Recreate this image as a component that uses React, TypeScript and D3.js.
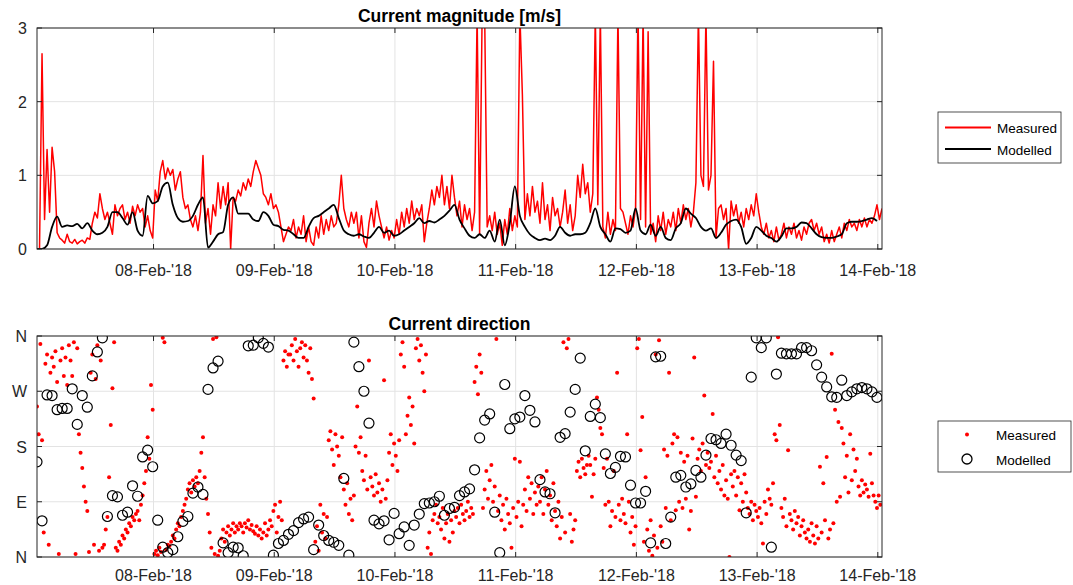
import React from 'react';
import * as d3 from 'd3';

// time axis: series start 07-Feb-2018 00:50 UTC
const START = Date.UTC(2018, 1, 7, 0, 50);
const END = Date.UTC(2018, 1, 14, 0, 50);
const MIN = 60000;

// current magnitude [m/s], measured every 30 min
const measuredMagnitude = [
  0, 0, 2.65, 0.4, 1.35, 0.5, 1.38, 1.05, 0.22, 0.15,
  0.12, 0.08, 0.2, 0.1, 0.08, 0.13, 0.07, 0.1, 0.12, 0.08,
  0.15, 0.13, 0.35, 0.5, 0.42, 0.75, 0.55, 0.4, 0.5, 0.35,
  0.2, 0.6, 0.45, 0.55, 0.6, 0.4, 0.5, 0.35, 0.58, 0.45,
  0.6, 0.5, 0.55, 0.3, 0.45, 0.25, 0.15, 0.8, 0.65, 1.05,
  1.2, 0.95, 1.1, 1.0, 1.08, 0.8, 0.95, 1.05, 0.7, 0.55,
  0.6, 0.4, 0.3, 0.45, 0.25, 0.5, 1.27, 0.35, 0.55, 0.2,
  0.6, 0.45, 0.9, 0.55, 0.85, 0.6, 0.9, 0.0, 0.7, 0.65,
  0.8, 0.72, 0.9, 0.8, 0.95, 0.85, 1.05, 1.2, 1.1, 1.0,
  0.75, 0.7, 0.6, 0.75, 0.55, 0.6, 0.5, 0.3, 0.1, 0.2,
  0.3, 0.25, 0.4, 0.15, 0.3, 0.2, 0.45, 0.1, 0.3, 0.1,
  0.05, 0.3, 0.15, 0.45, 0.2, 0.4, 0.25, 0.45, 0.3, 0.35,
  0.6, 1.0, 0.55, 0.4, 0.3, 0.5, 0.35, 0.5, 0.15, 0.45,
  0.1, 0.02, 0.35, 0.55, 0.3, 0.65, 0.45, 0.3, 0.15, 0.3,
  0.12, 0.25, 0.15, 0.4, 0.2, 0.5, 0.3, 0.55, 0.35, 0.65,
  0.4, 0.55, 0.45, 0.6, 0.1, 0.35, 0.55, 0.8, 0.6, 0.85,
  0.7, 1.0, 0.6, 0.85, 0.55, 1.0, 0.7, 0.45, 0.65, 0.3,
  0.6, 0.4, 0.55, 0.25, 0.5, 3.2, 0.2, 3.2, 3.2, 0.3,
  0.45, 0.25, 0.5, 0.2, 0.35, 0.05, 0.4, 0.2, 0.55, 0.25,
  0.45, 0.3, 3.2, 2.1, 0.4, 0.75, 0.45, 0.85, 0.5, 0.65,
  0.35, 0.9, 0.4, 0.6, 0.25, 0.7, 0.45, 0.55, 0.3, 0.5,
  0.8, 0.35, 0.6, 0.25, 0.45, 1.0, 0.7, 1.15, 0.75, 0.9,
  0.5, 0.75, 3.2, 0.6, 3.2, 0.3, 0.15, 0.5, 0.2, 0.4,
  0.25, 3.2, 0.55, 0.5, 0.35, 0.2, 0.45, 0.3, 0.55, 3.2,
  0.4, 3.2, 0.3, 2.95, 0.2, 0.35, 0.1, 0.45, 0.25, 0.5,
  0.2, 0.4, 0.3, 0.5, 0.25, 0.55, 0.35, 0.6, 0.4, 0.55,
  0.3, 0.5, 0.9, 3.2, 1.0, 0.85, 3.2, 0.8, 1.0, 2.55,
  0.15, 0.55, 0.6, 0.4, 0.55, 0.0, 0.65, 0.45, 0.6, 0.35,
  0.5, 0.3, 0.55, 0.4, 0.6, 0.45, 0.75, 0.5, 0.3, 0.2,
  0.35, 0.15, 0.25, 0.1, 0.3, 0.12, 0.2, 0.35, 0.15, 0.3,
  0.2, 0.35, 0.15, 0.25, 0.12, 0.3, 0.2, 0.35, 0.4, 0.25,
  0.35, 0.2, 0.3, 0.1, 0.2, 0.08, 0.25, 0.1, 0.2, 0.3,
  0.15, 0.35, 0.25, 0.4, 0.3, 0.35, 0.25, 0.4, 0.3, 0.42,
  0.3, 0.4, 0.35, 0.45, 0.6, 0.4, 0.55,
];

// current magnitude [m/s], model output every hour
const modelledMagnitude = [
  0, 0, 0.05, 0.3, 0.44, 0.3, 0.32, 0.31, 0.34, 0.28,
  0.35, 0.25, 0.2, 0.22, 0.3, 0.5, 0.5, 0.42, 0.33, 0.5,
  0.25, 0.18, 0.72, 0.62, 0.65, 0.85, 0.9, 0.6, 0.42, 0.37,
  0.38, 0.45, 0.6, 0.7, 0.02, 0.1, 0.2, 0.23, 0.6, 0.7,
  0.48, 0.48, 0.48, 0.4, 0.38, 0.5, 0.45, 0.33, 0.31, 0.26,
  0.25, 0.2, 0.15, 0.15, 0.3, 0.42, 0.45, 0.5, 0.55, 0.6,
  0.42, 0.25, 0.2, 0.18, 0.2, 0.17, 0.15, 0.22, 0.3, 0.22,
  0.25, 0.18, 0.2, 0.25, 0.3, 0.35, 0.42, 0.35, 0.38, 0.36,
  0.4, 0.45, 0.52, 0.6, 0.4, 0.28, 0.18, 0.15, 0.2, 0.15,
  0.25, 0.1, 0.4, 0.05, 0.35, 0.85, 0.45, 0.3, 0.2, 0.15,
  0.12, 0.14, 0.12, 0.18, 0.3, 0.22, 0.18, 0.2, 0.2, 0.22,
  0.35, 0.55, 0.3, 0.2, 0.1, 0.28, 0.27, 0.22, 0.25, 0.55,
  0.25, 0.2, 0.33, 0.18, 0.3, 0.15, 0.12, 0.28, 0.35, 0.55,
  0.48, 0.42, 0.3, 0.25, 0.28, 0.15, 0.22, 0.33, 0.38, 0.4,
  0.3, 0.07, 0.15, 0.3, 0.25, 0.18, 0.15, 0.1, 0.17, 0.28,
  0.28, 0.3, 0.36, 0.35, 0.28, 0.2, 0.16, 0.15, 0.15, 0.17,
  0.2, 0.35, 0.37, 0.37, 0.38, 0.4, 0.42, 0.38,
];

// current direction [deg], measured every 20 min
const measuredDirection = [
  245, 200, 347, 190, 40, 315, 330, 20, 300, 325,
  310, 335, 285, 5, 320, 340, 295, 325, 280, 345,
  320, 295, 350, 5, 340, 200, 170, 145, 115, 90,
  75, 8, 300, 330, 20, 290, 345, 10, 320, 15,
  20, 45, 65, 130, 215, 275, 350, 15, 10, 25,
  20, 35, 30, 45, 40, 55, 50, 65, 60, 70,
  75, 60, 85, 100, 120, 140, 195, 160, 280, 240,
  5, 10, 3, 15, 8, 357, 350, 12, 20, 18,
  25, 35, 30, 45, 55, 50, 65, 75, 85, 95,
  110, 120, 105, 125, 115, 130, 120, 140, 170, 195,
  130, 95, 70, 40, 15, 355, 5, 358, 2, 10,
  30, 45, 25, 40, 50, 35, 45, 55, 40, 50,
  45, 55, 50, 40, 55, 48, 60, 45, 52, 42,
  38, 50, 35, 45, 30, 40, 55, 35, 45, 60,
  50, 75, 85, 40, 65, 90, 60, 320, 335, 310,
  330, 330, 345, 320, 355, 335, 310, 340, 350, 325,
  345, 320, 300, 340, 290, 258, 25, 50, 10, 85,
  40, 70, 30, 65, 190, 205, 175, 150, 200, 180,
  165, 130, 195, 110, 85, 120, 70, 95, 60, 100,
  180, 245, 170, 195, 140, 125, 165, 110, 320, 130,
  115, 100, 135, 105, 120, 90, 110, 288, 95, 125,
  170, 200, 150, 185, 165, 140, 190, 330, 350, 310,
  200, 230, 260, 215, 245, 185, 340, 355, 320, 345,
  300, 270, 330, 15, 40, 5, 60, 70, 85, 55,
  65, 45, 80, 30, 55, 70, 25, 60, 40, 75,
  65, 80, 55, 85, 70, 60, 75, 90, 65, 80,
  70, 285, 310, 265, 330, 300, 80, 110, 140, 95,
  125, 150, 90, 115, 355, 75, 100, 60, 85, 45,
  95, 70, 55, 15, 80, 160, 65, 90, 155, 50,
  85, 110, 75, 130, 95, 120, 70, 105, 85, 115,
  90, 130, 70, 110, 140, 85, 100, 60, 120, 75,
  50, 90, 30, 65, 350, 40, 340, 355, 70, 25,
  45, 60, 140, 155, 130, 160, 145, 135, 150, 165,
  150, 98, 135, 160, 260, 240, 210, 200, 145, 85,
  160, 90, 50, 75, 140, 65, 300, 85, 60, 95,
  70, 55, 200, 90, 40, 65, 20, 50, 340, 355,
  174, 228, 25, 130, 45, 10, 60, 2, 35, 330,
  15, 353, 50, 25, 175, 80, 165, 300, 60, 185,
  200, 76, 195, 90, 170, 80, 155, 95, 165, 45,
  75, 193, 325, 98, 160, 175, 140, 185, 263, 150,
  170, 145, 155, 233, 130, 165, 120, 140, 110, 150,
  100, 125, 95, 0, 135, 115, 140, 100, 130, 76,
  120, 90, 135, 105, 80, 70, 90, 60, 85, 75,
  65, 80, 55, 22, 90, 70, 110, 95, 85, 120,
  200, 190, 358, 215, 80, 65, 95, 50, 174, 70,
  60, 45, 75, 55, 65, 35, 50, 60, 40, 30,
  45, 25, 55, 35, 22, 50, 30, 147, 40, 120,
  60, 163, 30, 45, 331, 55, 240, 90, 220, 98,
  210, 185, 130, 165, 105, 200, 125, 175, 140, 160,
  115, 100, 125, 105, 118, 110, 98, 168, 120, 100,
  90, 80, 100, 85,
];

// current direction [deg], model output every hour
const modelledDirection = [
  155, 59, 264, 263, 240, 242, 242, 274, 216, 263,
  244, 295, 334, 357, 66, 100, 98, 68, 73, 116,
  99, 163, 174, 147, 60, 16, 7, 12, 33, 58,
  66, 104, 114, 102, 273, 308, 319, 23, 7, 16,
  15, 2, 344, 345, 357, 348, 342, 3, 22, 27,
  37, 43, 56, 62, 65, 12, 52, 35, 27, 24,
  19, 128, 3, 350, 310, 270, 218, 60, 54, 59,
  28, 71, 38, 49, 19, 52, 70, 87, 88, 90,
  99, 68, 79, 81, 100, 106, 111, 142, 194, 223,
  233, 73, 7, 281, 209, 225, 228, 263, 239, 220,
  126, 106, 103, 72, 195, 201, 236, 273, 324, 173,
  229, 249, 227, 168, 136, 146, 164, 163, 117, 88,
  88, 107, 23, 326, 327, 22, 65, 130, 133, 114,
  119, 141, 130, 166, 193, 191, 185, 200, 182, 166,
  157, 72, 293, 357, 341, 357, 16, 298, 332, 331,
  331, 331, 341, 341, 336, 313, 293, 277, 261, 260,
  288, 263, 269, 274, 276, 274, 269, 260,
];

const magTicks = [0, 1, 2, 3];
const dirTicks = [0, 90, 180, 270, 360];
const dirLabels = ['N', 'E', 'S', 'W', 'N'];
const legendLabels = ['Measured', 'Modelled'];

const FONT = "'Liberation Sans', Arial, Helvetica, sans-serif";
const AX = '#262626';
const GRID = '#e3e3e3';
const L = 37, R = 882;

type PanelProps = {
  id: string;
  top: number;
  bottom: number;
  labelGap: number;
  title: string;
  yTicks: number[];
  yLabel: (v: number, i: number) => string;
  yScale: d3.ScaleLinear<number, number>;
  x: d3.ScaleTime<number, number>;
  children: React.ReactNode;
};

function Panel({ id, top, bottom, labelGap, title, yTicks, yLabel, yScale, x, children }: PanelProps) {
  const days = d3.utcDay.range(new Date(Date.UTC(2018, 1, 8)), new Date(Date.UTC(2018, 1, 14, 1)));
  const fmt = d3.utcFormat("%d-%b-'%y");
  const tk = 5;
  return (
    <g>
      <defs>
        <clipPath id={id}>
          <rect x={L} y={top} width={R - L} height={bottom - top} />
        </clipPath>
      </defs>
      {days.map((d) => (
        <line key={'gx' + d.getTime()} x1={x(d)} x2={x(d)} y1={top} y2={bottom} stroke={GRID} strokeWidth={1} />
      ))}
      {yTicks.map((t) => (
        <line key={'gy' + t} x1={L} x2={R} y1={yScale(t)} y2={yScale(t)} stroke={GRID} strokeWidth={1} />
      ))}
      <g clipPath={`url(#${id})`}>{children}</g>
      <rect x={L} y={top} width={R - L} height={bottom - top} fill="none" stroke={AX} strokeWidth={1} />
      {days.map((d) => (
        <g key={'tx' + d.getTime()}>
          <line x1={x(d)} x2={x(d)} y1={bottom} y2={bottom - tk} stroke={AX} />
          <line x1={x(d)} x2={x(d)} y1={top} y2={top + tk} stroke={AX} />
          <text x={x(d)} y={bottom + labelGap} textAnchor="middle" fontSize={16} fill={AX} fontFamily={FONT}>
            {fmt(d)}
          </text>
        </g>
      ))}
      {yTicks.map((t, i) => (
        <g key={'ty' + t}>
          <line x1={L} x2={L + tk} y1={yScale(t)} y2={yScale(t)} stroke={AX} />
          <line x1={R} x2={R - tk} y1={yScale(t)} y2={yScale(t)} stroke={AX} />
          <text x={L - 10} y={yScale(t) + 6} textAnchor="end" fontSize={16} fill={AX} fontFamily={FONT}>
            {yLabel(t, i)}
          </text>
        </g>
      ))}
      <text x={(L + R) / 2} y={top - 6} textAnchor="middle" fontSize={17.5} fontWeight="bold" fill="#000" fontFamily={FONT}>
        {title}
      </text>
    </g>
  );
}

export default function App() {
  const x = d3.scaleUtc().domain([new Date(START), new Date(END)]).range([L, R]);
  const yMag = d3.scaleLinear().domain([0, 3]).range([249, 28]);
  const yDir = d3.scaleLinear().domain([0, 360]).range([557, 336]);

  const magMeasuredPath = d3.line<number>()
    .x((_, i) => x(new Date(START + i * 30 * MIN)))
    .y((d) => yMag(d))(measuredMagnitude) || '';
  const magModelledPath = d3.line<number>()
    .x((_, i) => x(new Date(START + i * 60 * MIN)))
    .y((d) => yMag(d))
    .curve(d3.curveMonotoneX)(modelledMagnitude) || '';

  return (
    <svg width={1073} height={585} style={{ position: 'absolute', left: 0, top: 0, background: '#fff' }}>
      <rect width={1073} height={585} fill="#fff" />
      <Panel id="clipMag" top={28} bottom={249} labelGap={27} title="Current magnitude [m/s]" yTicks={magTicks}
        yLabel={(v) => String(v)} yScale={yMag} x={x}>
        <path d={magMeasuredPath} fill="none" stroke="#ff0000" strokeWidth={1.5} strokeLinejoin="round" />
        <path d={magModelledPath} fill="none" stroke="#000" strokeWidth={1.8} />
      </Panel>
      <Panel id="clipDir" top={336} bottom={557} labelGap={23.5} title="Current direction" yTicks={dirTicks}
        yLabel={(_, i) => dirLabels[i]} yScale={yDir} x={x}>
        {measuredDirection.map((d, i) => (
          <circle key={'m' + i} cx={x(new Date(START + i * 20 * MIN))} cy={yDir(d)} r={2} fill="#ff0000" />
        ))}
        {modelledDirection.map((d, i) => (
          <circle key={'o' + i} cx={x(new Date(START + i * 60 * MIN))} cy={yDir(d)} r={5} fill="none" stroke="#000" strokeWidth={1.2} />
        ))}
      </Panel>

      {/* legend, magnitude */}
      <g fontFamily={FONT} fontSize={13.5} fill="#000">
        <rect x={938} y={112} width={123} height={51} fill="#fff" stroke={AX} strokeWidth={0.8} />
        <line x1={945} x2={991} y1={127.5} y2={127.5} stroke="#ff0000" strokeWidth={2} />
        <line x1={945} x2={991} y1={149} y2={149} stroke="#000" strokeWidth={2} />
        <text x={997} y={133}>{legendLabels[0]}</text>
        <text x={997} y={154.5}>{legendLabels[1]}</text>
      </g>

      {/* legend, direction */}
      <g fontFamily={FONT} fontSize={13.5} fill="#000">
        <rect x={938} y={421} width={133} height={51} fill="#fff" stroke={AX} strokeWidth={0.8} />
        <circle cx={967} cy={434.5} r={2} fill="#ff0000" />
        <circle cx={967} cy={459} r={5} fill="none" stroke="#000" strokeWidth={1.3} />
        <text x={996} y={440}>{legendLabels[0]}</text>
        <text x={996} y={464.5}>{legendLabels[1]}</text>
      </g>
    </svg>
  );
}
